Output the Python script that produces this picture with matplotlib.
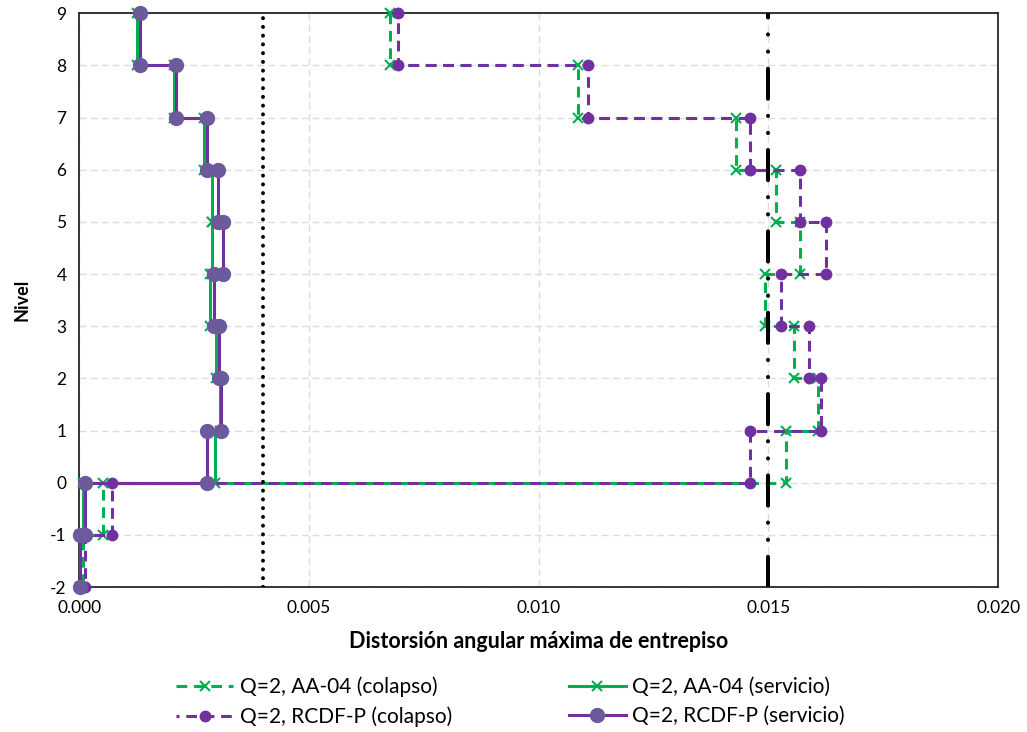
import matplotlib
matplotlib.use("Agg")
import matplotlib.pyplot as plt
import numpy as np

# storeys, top to bottom: each drift value holds between level k and level k-1
storey_top = [9, 8, 7, 6, 5, 4, 3, 2, 1, 0, -1]

aa04_colapso = [0.00677, 0.01086, 0.01430, 0.01517, 0.01569, 0.01493, 0.01556, 0.01608, 0.01539, 0.00052, 0.00008]
rcdf_colapso = [0.00694, 0.01108, 0.01460, 0.01569, 0.01626, 0.01528, 0.01589, 0.01615, 0.01460, 0.00072, 0.00013]
aa04_servicio = [0.00126, 0.00207, 0.00272, 0.00289, 0.00290, 0.00285, 0.00298, 0.00307, 0.00296, 0.00008, 0.00003]
rcdf_servicio = [0.00133, 0.00211, 0.00279, 0.00302, 0.00313, 0.00294, 0.00305, 0.00309, 0.00279, 0.00013, 0.00002]

limite_servicio = 0.004
limite_colapso = 0.015

x_ticks = [0.000, 0.005, 0.010, 0.015, 0.020]
y_ticks = list(range(-2, 10))

GREEN = "#00b050"
PURPLE = "#7030a0"
PURPLE_SERV = "#6c5a9c"

plt.rcParams["font.family"] = ["Lato", "DejaVu Sans"]
plt.rcParams["axes.unicode_minus"] = False


def staircase(drifts):
    levels = np.array(storey_top)
    x = np.repeat(drifts, 2)
    y = np.column_stack([levels, levels - 1]).ravel()
    return x, y


fig = plt.figure(figsize=(10.27, 7.32), dpi=100)
ax = fig.add_axes([0.077, 0.198, 0.895, 0.784])

x, y = staircase(aa04_colapso)
h1, = ax.plot(x, y, color=GREEN, lw=2.2, linestyle=(0, (3.5, 2.2)),
              marker="x", ms=7, mew=1.5, label="Q=2, AA-04 (colapso)", zorder=3,
              clip_on=False)
x, y = staircase(aa04_servicio)
h2, = ax.plot(x, y, color=GREEN, lw=2.2, marker="x", ms=7, mew=1.5,
              label="Q=2, AA-04 (servicio)", zorder=3, clip_on=False)
x, y = staircase(rcdf_colapso)
h3, = ax.plot(x, y, color=PURPLE, lw=2.2, linestyle=(2.5, (3.5, 2.2)),
              marker="o", ms=7.5, label="Q=2, RCDF-P (colapso)", zorder=4,
              clip_on=False)
x, y = staircase(rcdf_servicio)
h4, = ax.plot(x, y, color=PURPLE, lw=2.2, marker="o", ms=10,
              mfc=PURPLE_SERV, mec=PURPLE_SERV, label="Q=2, RCDF-P (servicio)",
              zorder=4, clip_on=False)

# drift limits
ax.axvline(limite_servicio, color="black", lw=2.8, linestyle=(0, (0.05, 2.2)),
           dash_capstyle="round", zorder=5)
ax.axvline(limite_colapso, color="black", lw=2.9,
           linestyle=(0, (7.5, 4.2, 0.05, 4.2, 0.05, 4.2)),
           dash_capstyle="round", zorder=5)

ax.set_xlim(0, 0.020)
ax.set_ylim(-2, 9)
ax.set_xticks(x_ticks)
ax.set_xticklabels(["{:.3f}".format(v) for v in x_ticks])
ax.set_yticks(y_ticks)
ax.tick_params(length=0, labelsize=12.5, pad=9)

ax.grid(True, color="#dcdcdc", linestyle=(0, (5, 3)), lw=1.0)
ax.set_axisbelow(True)
for s in ax.spines.values():
    s.set_color("#262626")
    s.set_linewidth(1.3)

ax.set_xlabel("Distorsión angular máxima de entrepiso", fontsize=15.5,
              fontweight="bold", labelpad=11)
ax.set_ylabel("Nivel", fontsize=13, fontweight="bold", labelpad=14)

fig.legend(handles=[h1, h3, h2, h4], loc="center", bbox_to_anchor=(0.497, 0.0415),
           ncol=2, frameon=False, fontsize=15, handlelength=2.75, handletextpad=0.3,
           columnspacing=5.6, numpoints=1, labelspacing=0.45)

fig.savefig("out.png", dpi=100)
